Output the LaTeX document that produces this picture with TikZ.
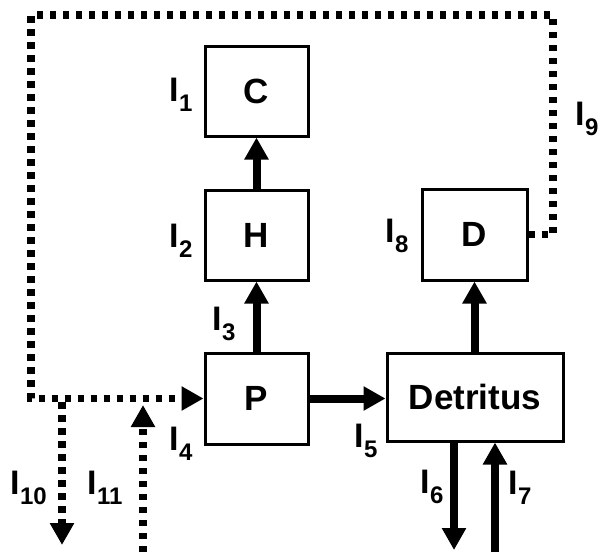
\documentclass[tikz,border=0pt]{standalone}
\usepackage{fontspec}
\setmainfont{Liberation Sans}
\usetikzlibrary{arrows.meta}
\newcommand{\flab}[1]{\fontsize{34}{34}\selectfont\bfseries I\kern0.5pt\raisebox{-10pt}{\fontsize{24}{24}\selectfont #1}}
\begin{document}
\begin{tikzpicture}[x=1pt,y=-1pt,
  boxnode/.style={draw, line width=3pt, inner sep=0pt, font=\fontsize{35}{35}\selectfont\bfseries},
  flow/.style={line width=8pt, -{Triangle[length=22pt,width=23pt]}},
  dotflow/.style={line width=7.5pt, line cap=butt, dash pattern=on 6.5pt off 6.5pt, -{Triangle[length=22pt,width=23pt]}},
  lab/.style={anchor=base west, inner sep=0pt}]
\useasboundingbox (0,0) rectangle (601,552);
% boxes
\node[boxnode, minimum width=103pt, minimum height=90pt] (C) at (256.5,91) {C};
\node[boxnode, minimum width=103pt, minimum height=90pt] (H) at (256.5,235) {H};
\node[boxnode, minimum width=105pt, minimum height=91pt] (D) at (474.5,234.5) {D};
\node[boxnode, minimum width=103pt, minimum height=91pt] (P) at (256.5,398.5) {P};
\node[boxnode, minimum width=176pt, minimum height=88pt] (Det) at (475,397) {Detritus};
% free ends
\coordinate (c1) at (553,15);
\coordinate (c2) at (31,15);
\coordinate (j10) at (62,402);
\coordinate (o10) at (62,545);
\coordinate (i11) at (143,552);
\coordinate (j11) at (143,405);
\coordinate (o6) at (454,550);
\coordinate (i7) at (495,552);
% solid flows
\draw[flow] (H.north) -- (C.south);
\draw[flow] (P.north) -- (H.south);
\draw[flow] (P.east) -- (Det.west |- P.east);
\draw[flow] (Det.north -| D.south) -- (D.south);
\draw[flow] (Det.south -| o6) -- (o6);
\draw[flow] (i7) -- (Det.south -| i7);
% dotted flows
\draw[dotflow] (D.east) -| (c1) -- (c2) |- (P.west);
\draw[dotflow] (j10) -- (o10);
\draw[dotflow] (i11) -- (j11);
% labels
\node[lab] (l1) at (169,101) {\flab{1}};
\node[lab] (l2) at (169,247) {\flab{2}};
\node[lab] (l3) at (212,330) {\flab{3}};
\node[lab] (l4) at (169,450) {\flab{4}};
\node[lab] (l5) at (354,447) {\flab{5}};
\node[lab] (l6) at (420,493) {\flab{6}};
\node[lab] (l7) at (508,494) {\flab{7}};
\node[lab] (l8) at (385,242) {\flab{8}};
\node[lab] (l9) at (575,125) {\flab{9}};
\node[lab] (l10) at (10,494) {\flab{10}};
\node[lab] (l11) at (87,494) {\flab{11}};
\end{tikzpicture}
\end{document}
